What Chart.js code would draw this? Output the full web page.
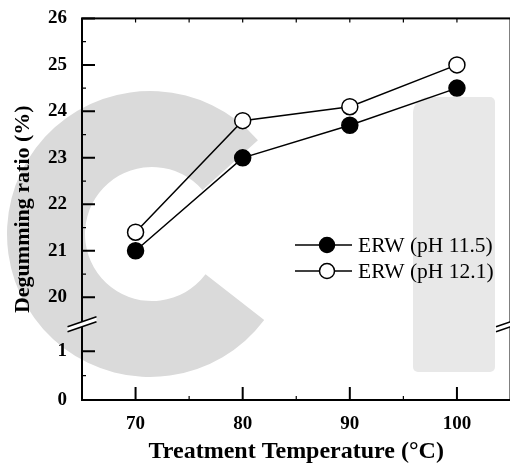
<!DOCTYPE html>
<html>
<head>
<meta charset="utf-8">
<script src="https://cdn.jsdelivr.net/npm/chart.js@4.4.1/dist/chart.umd.min.js"></script>
<style>
  body { margin: 0; background: #fff; overflow: hidden; }
</style>
</head>
<body>
<canvas id="degumChart" width="520" height="465"></canvas>
<script>
const temperatures = [70, 80, 90, 100];
const ph115Ratio = [21.0, 23.0, 23.7, 24.5];
const ph121Ratio = [21.4, 23.8, 24.1, 25.0];
const seriesLabels = ["ERW (pH 11.5)", "ERW (pH 12.1)"];
const xTicks = [70, 80, 90, 100];
const xMinorTicks = [75, 85, 95];
const yTicks = [0, 1, 20, 21, 22, 23, 24, 25, 26];
const yMinorTicks = [0.5, 20.5, 21.5, 22.5, 23.5, 24.5, 25.5];

// broken y axis: 0 and 1 are squeezed in under 20
const Y_ZERO = 17.79;
const Y_ONE = 18.84;
const Y_BREAK = 19.42;
function toAxis(v) {
  if (v >= 20) return v;
  return Y_ZERO + v * (Y_ONE - Y_ZERO);
}

const backdrop = {
  id: "backdrop",
  beforeDraw(chart) {
    const ctx = chart.ctx;
    ctx.save();
    ctx.fillStyle = "#fff";
    ctx.fillRect(0, 0, chart.width, chart.height);
    // faint "C" watermark
    ctx.fillStyle = "#dadada";
    ctx.beginPath();
    ctx.arc(150, 234, 143, 37 * Math.PI / 180, 319 * Math.PI / 180);
    ctx.arc(152, 234, 67, 319 * Math.PI / 180, 37 * Math.PI / 180, true);
    ctx.closePath();
    ctx.fill();
    // light bar on the right
    ctx.fillStyle = "#e8e8e8";
    ctx.beginPath();
    ctx.roundRect(413, 97, 82, 275, [16, 5, 5, 5]);
    ctx.fill();
    ctx.restore();
  }
};

const frame = {
  id: "frame",
  afterDraw(chart) {
    const ctx = chart.ctx;
    const a = chart.chartArea;
    const x = chart.scales.x;
    const y = chart.scales.y;
    ctx.save();
    ctx.strokeStyle = "#000";
    ctx.lineWidth = 2;
    ctx.strokeRect(a.left, a.top, a.right - a.left, a.bottom - a.top);

    ctx.beginPath();
    xTicks.forEach((t) => {
      const px = x.getPixelForValue(t);
      ctx.moveTo(px, a.bottom);
      ctx.lineTo(px, a.bottom - 13);
    });
    yTicks.forEach((t) => {
      const py = y.getPixelForValue(toAxis(t));
      ctx.moveTo(a.left, py);
      ctx.lineTo(a.left + 13, py);
    });
    ctx.stroke();

    ctx.lineWidth = 1.2;
    ctx.beginPath();
    xMinorTicks.forEach((t) => {
      const px = x.getPixelForValue(t);
      ctx.moveTo(px, a.bottom);
      ctx.lineTo(px, a.bottom - 4);
    });
    xTicks.concat(xMinorTicks).forEach((t) => {
      const px = x.getPixelForValue(t);
      ctx.moveTo(px, a.top);
      ctx.lineTo(px, a.top + 4);
    });
    yMinorTicks.forEach((t) => {
      const py = y.getPixelForValue(toAxis(t));
      ctx.moveTo(a.left, py);
      ctx.lineTo(a.left + 4, py);
    });
    ctx.stroke();

    // axis break marks
    const by = y.getPixelForValue(Y_BREAK);
    [a.left, a.right].forEach((bx) => {
      ctx.fillStyle = "#fff";
      ctx.beginPath();
      ctx.moveTo(bx - 14.5, by + 7.5);
      ctx.lineTo(bx + 14.5, by - 2.5);
      ctx.lineTo(bx + 14.5, by - 7.5);
      ctx.lineTo(bx - 14.5, by + 2.5);
      ctx.closePath();
      ctx.fill();
      ctx.lineWidth = 1.5;
      ctx.beginPath();
      ctx.moveTo(bx - 14.5, by + 7.5);
      ctx.lineTo(bx + 14.5, by - 2.5);
      ctx.moveTo(bx - 14.5, by + 2.5);
      ctx.lineTo(bx + 14.5, by - 7.5);
      ctx.stroke();
    });

    // legend
    chart.data.datasets.forEach((ds, i) => {
      const ly = 245 + i * 26;
      ctx.strokeStyle = "#000";
      ctx.lineWidth = 1.5;
      ctx.beginPath();
      ctx.moveTo(295, ly);
      ctx.lineTo(352, ly);
      ctx.stroke();
      ctx.beginPath();
      ctx.arc(327, ly, 7.5, 0, Math.PI * 2);
      ctx.fillStyle = ds.pointBackgroundColor;
      ctx.fill();
      ctx.stroke();
      ctx.fillStyle = "#000";
      ctx.font = "21.5px 'Liberation Serif'";
      ctx.textBaseline = "middle";
      ctx.textAlign = "left";
      ctx.fillText(ds.label, 358, ly + 1);
    });
    ctx.restore();
  }
};

const ctx = document.getElementById("degumChart");

const myChart = new Chart(ctx, {
  type: "line",
  data: {
    datasets: [
      {
        label: seriesLabels[0],
        data: temperatures.map((t, i) => ({ x: t, y: toAxis(ph115Ratio[i]) })),
        borderColor: "#000",
        borderWidth: 1.5,
        pointRadius: 8,
        pointBorderWidth: 1.5,
        pointBackgroundColor: "#000",
        pointBorderColor: "#000",
        tension: 0,
      },
      {
        label: seriesLabels[1],
        data: temperatures.map((t, i) => ({ x: t, y: toAxis(ph121Ratio[i]) })),
        borderColor: "#000",
        borderWidth: 1.5,
        pointRadius: 8,
        pointBorderWidth: 1.5,
        pointBackgroundColor: "#fff",
        pointBorderColor: "#000",
        tension: 0,
      },
    ],
  },
  options: {
    responsive: false,
    animation: false,
    clip: false,
    layout: { padding: { left: 0, right: 8, top: 14.5, bottom: 0 } },
    scales: {
      x: {
        type: "linear",
        min: 65,
        max: 105,
        grid: { display: false },
        border: { display: false },
        afterBuildTicks: (scale) => {
          scale.ticks = xTicks.map((v) => ({ value: v }));
        },
        afterFit: (scale) => {
          scale.height = 65;
        },
        ticks: {
          padding: 5,
          color: "#000",
          font: { family: "'Liberation Serif'", size: 19, weight: "bold" },
        },
        title: {
          display: true,
          text: "Treatment Temperature (°C)",
          color: "#000",
          padding: 0,
          font: { family: "'Liberation Serif'", size: 24, weight: "bold", lineHeight: 1.1 },
        },
      },
      y: {
        type: "linear",
        min: Y_ZERO,
        max: 26,
        grid: { display: false },
        border: { display: false },
        afterBuildTicks: (scale) => {
          scale.ticks = yTicks.map((v) => ({ value: toAxis(v) }));
        },
        afterFit: (scale) => {
          scale.width = 82;
        },
        ticks: {
          padding: 7,
          color: "#000",
          font: { family: "'Liberation Serif'", size: 19, weight: "bold" },
          callback: (value, index) => yTicks[index],
        },
        title: {
          display: true,
          text: "Degumming ratio (%)",
          color: "#000",
          padding: { top: 10, bottom: 0 },
          font: { family: "'Liberation Serif'", size: 22, weight: "bold", lineHeight: 1.2 },
        },
      },
    },
    plugins: {
      legend: { display: false },
      tooltip: { enabled: false },
    },
  },
  plugins: [backdrop, frame],
});
</script>
</body>
</html>
